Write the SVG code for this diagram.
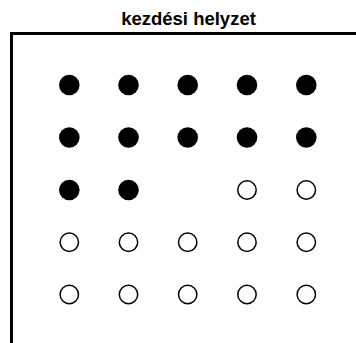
<svg xmlns="http://www.w3.org/2000/svg" width="356" height="343" viewBox="0 0 356 343">
<style>
.title{font-family:"Liberation Sans",Arial,sans-serif;font-weight:bold;font-size:18.5px;fill:#000}
.frame{fill:none;stroke:#000;stroke-width:3}
.on{fill:#000}
.off{fill:#fff;stroke:#000;stroke-width:1.5}
</style>
<rect width="356" height="343" fill="#fff"/>
<text class="title" x="188.5" y="24.5" text-anchor="middle">kezdési helyzet</text>
<path class="frame" d="M11.5 343 V33.5 H356"/>
<g id="row1">
<circle class="on" cx="69.3" cy="85" r="10.3"/>
<circle class="on" cx="128.5" cy="85" r="10.3"/>
<circle class="on" cx="187.7" cy="85" r="10.3"/>
<circle class="on" cx="247" cy="85" r="10.3"/>
<circle class="on" cx="306.3" cy="85" r="10.3"/>
</g>
<g id="row2">
<circle class="on" cx="69.3" cy="137.5" r="10.3"/>
<circle class="on" cx="128.5" cy="137.5" r="10.3"/>
<circle class="on" cx="187.7" cy="137.5" r="10.3"/>
<circle class="on" cx="247" cy="137.5" r="10.3"/>
<circle class="on" cx="306.3" cy="137.5" r="10.3"/>
</g>
<g id="row3">
<circle class="on" cx="69.3" cy="190" r="10.3"/>
<circle class="on" cx="128.5" cy="190" r="10.3"/>
<circle class="off" cx="247" cy="190" r="9.2"/>
<circle class="off" cx="306.3" cy="190" r="9.2"/>
</g>
<g id="row4">
<circle class="off" cx="69.3" cy="242.3" r="9.2"/>
<circle class="off" cx="128.5" cy="242.3" r="9.2"/>
<circle class="off" cx="187.7" cy="242.3" r="9.2"/>
<circle class="off" cx="247" cy="242.3" r="9.2"/>
<circle class="off" cx="306.3" cy="242.3" r="9.2"/>
</g>
<g id="row5">
<circle class="off" cx="69.3" cy="294.5" r="9.2"/>
<circle class="off" cx="128.5" cy="294.5" r="9.2"/>
<circle class="off" cx="187.7" cy="294.5" r="9.2"/>
<circle class="off" cx="247" cy="294.5" r="9.2"/>
<circle class="off" cx="306.3" cy="294.5" r="9.2"/>
</g>
</svg>
